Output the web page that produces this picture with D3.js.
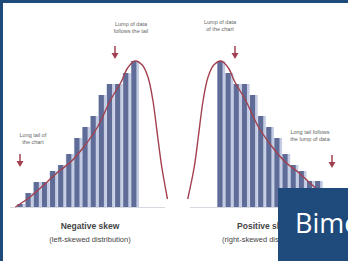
<!DOCTYPE html>
<html>
<head>
<meta charset="utf-8">
<script src="https://cdn.jsdelivr.net/npm/d3@7"></script>
<style>
  body { margin: 0; background: #fff; }
  svg { display: block; }
</style>
</head>
<body>
<svg width="348" height="261"></svg>
<script>
// skewed distribution illustration, two small histograms with a fitted curve

// bar heights (arbitrary units)
var leftBars  = [3, 14, 25, 25, 36, 42, 53, 69, 80, 91, 112, 123, 123, 134, 146];
var rightBars = [146, 134, 123, 123, 112, 91, 80, 69, 53, 42, 36, 26, 26, 14, 3];

// curve points, [bin position, height]
var leftCurve = [[-0.2, 0], [1.6, 10], [3.3, 22], [4.9, 34], [6.6, 45], [8.2, 60], [9.9, 80],
  [11.5, 107], [12.8, 125], [13.6, 139], [14.5, 146], [15.4, 142], [16.1, 130], [16.7, 107],
  [17.3, 70], [17.8, 40], [18.5, 8]];
var rightCurve = [[-3.6, 8], [-2.8, 40], [-2.3, 70], [-1.7, 107], [-1.1, 130], [-0.4, 142],
  [0.5, 146], [1.4, 139], [2.2, 125], [3.5, 107], [5.1, 80], [6.8, 60], [8.4, 45], [10.1, 34],
  [11.7, 22], [13.4, 10], [15.2, 0]];

var titles = ["Negative skew", "Positive skew"];
var subtitles = ["(left-skewed distribution)", "(right-skewed distribution)"];

var svg = d3.select("svg"),
 width = +svg.attr("width"),
 height = +svg.attr("height");

var navy = "#1f4a7c";
var curveColour = "#a3404f";

//frame on the top and left
svg.append("rect").attr("x", 0).attr("y", 0).attr("width", width).attr("height", 3).attr("fill", navy);
svg.append("rect").attr("x", 0).attr("y", 0).attr("width", 3).attr("height", height).attr("fill", navy);

var y = d3.scaleLinear().domain([0, 150]).range([207, 57]);

function drawPanel(bars, curvePts, x0, x1, baseFrom, baseTo) {
  var g = svg.append("g");
  var x = d3.scaleLinear().domain([0, bars.length]).range([x0, x1]);
  var step = x(1) - x(0);

  //baseline
  g.append("line")
    .attr("x1", baseFrom).attr("x2", baseTo)
    .attr("y1", y(0) + 0.5).attr("y2", y(0) + 0.5)
    .style("stroke", "#d6d9e0").attr("stroke-width", 1);

  //light stripe behind each bar
  g.selectAll("rect.light")
    .data(bars)
    .enter().append("rect")
    .attr("class", "light")
    .attr("x", function(d, i) { return x(i); })
    .attr("y", function(d) { return y(d); })
    .attr("width", step)
    .attr("height", function(d) { return y(0) - y(d); })
    .attr("fill", "#c3cce2");

  g.selectAll("rect.bar")
    .data(bars)
    .enter().append("rect")
    .attr("class", "bar")
    .attr("x", function(d, i) { return x(i) + 0.5; })
    .attr("y", function(d) { return y(d); })
    .attr("width", step * 0.62)
    .attr("height", function(d) { return y(0) - y(d); })
    .attr("fill", "#5f6c98");

  var line = d3.line()
    .x(function(d) { return x(d[0]); })
    .y(function(d) { return y(d[1]); })
    .curve(d3.curveCatmullRom);

  g.append("path")
    .datum(curvePts)
    .attr("d", line)
    .attr("fill", "none")
    .style("stroke", curveColour)
    .attr("stroke-width", 1.4);
}

drawPanel(leftBars, leftCurve, 17, 139, 10, 165);
drawPanel(rightBars, rightCurve, 217, 339, 190, 345);

//small notes with arrows
var notes = [
  { lines: ["Lump of data", "follows the tail"], tx: 131, ty: 26, ax: 115, ay: 46 },
  { lines: ["Long tail of", "the chart"], tx: 33, ty: 137, ax: 20, ay: 154 },
  { lines: ["Lump of data", "of the chart"], tx: 220, ty: 24, ax: 235, ay: 46 },
  { lines: ["Long tail follows", "the lump of data"], tx: 310, ty: 134, ax: 332, ay: 155 }
];

notes.forEach(function(n) {
  var t = svg.append("text")
    .attr("x", n.tx).attr("y", n.ty)
    .attr("text-anchor", "middle")
    .attr("font-family", "Liberation Sans, Arial, sans-serif")
    .attr("font-size", 5.5)
    .attr("fill", "#666");
  n.lines.forEach(function(s, i) {
    t.append("tspan").attr("x", n.tx).attr("dy", i ? 6.5 : 0).text(s);
  });
  svg.append("line")
    .attr("x1", n.ax).attr("x2", n.ax)
    .attr("y1", n.ay).attr("y2", n.ay + 9)
    .style("stroke", curveColour).attr("stroke-width", 1.5);
  svg.append("path")
    .attr("d", "M" + (n.ax - 3.5) + "," + (n.ay + 7) + "L" + (n.ax + 3.5) + "," + (n.ay + 7) + "L" + n.ax + "," + (n.ay + 13) + "Z")
    .attr("fill", curveColour);
});

//captions
[90, 265].forEach(function(cx, i) {
  svg.append("text")
    .attr("x", cx).attr("y", 229)
    .attr("text-anchor", "middle")
    .attr("font-family", "Liberation Sans, Arial, sans-serif")
    .attr("font-size", 8.5).attr("font-weight", "bold")
    .attr("fill", "#444")
    .text(titles[i]);
  svg.append("text")
    .attr("x", cx).attr("y", 242)
    .attr("text-anchor", "middle")
    .attr("font-family", "Liberation Sans, Arial, sans-serif")
    .attr("font-size", 7.5)
    .attr("fill", "#444")
    .text(subtitles[i]);
});

//the title box in the corner, its word runs off the right edge as in the original
svg.append("rect")
  .attr("x", 278).attr("y", 188)
  .attr("width", 80).attr("height", 80)
  .attr("fill", navy);
svg.append("text")
  .attr("x", 295).attr("y", 233)
  .attr("font-family", "Open Sans, Noto Sans, sans-serif")
  .attr("font-size", 27)
  .attr("fill", "#fff")
  .text("Bimodal");
</script>
</body>
</html>
